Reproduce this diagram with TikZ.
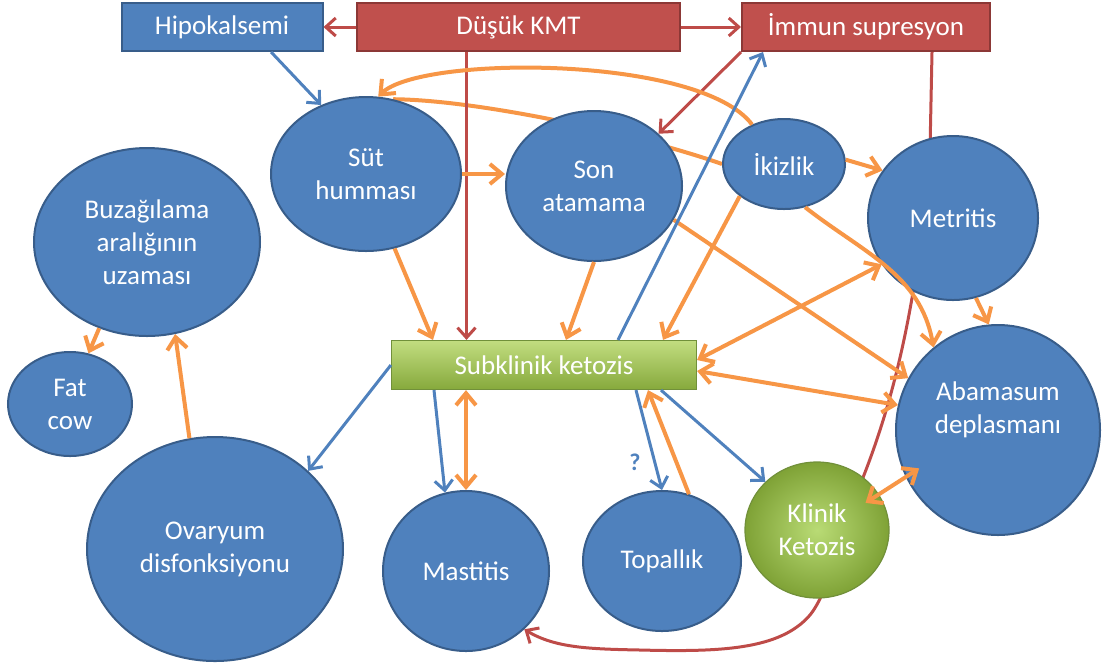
\documentclass[tikz,border=0pt]{standalone}
\usepackage{fontspec}
\setmainfont{Carlito}
\usetikzlibrary{shapes.geometric, arrows.meta, backgrounds}

\definecolor{ovalblue}{HTML}{4F81BD}
\definecolor{ovalrim}{HTML}{385D8A}
\definecolor{boxred}{HTML}{C0504D}
\definecolor{boxrim}{HTML}{8C3836}
\definecolor{linkred}{HTML}{BE4B48}
\definecolor{linkorange}{HTML}{F79646}
\definecolor{greentop}{HTML}{C2DD80}
\definecolor{greenbot}{HTML}{86A93C}
\definecolor{greenrim}{HTML}{71903A}
\definecolor{greenin}{HTML}{B9DB75}
\definecolor{greenout}{HTML}{7FA236}

\begin{document}
\begin{tikzpicture}[x=0.5pt,y=-0.5pt,
  disease/.style={ellipse, draw=ovalrim, line width=1pt, fill=ovalblue, text=white,
    inner sep=0pt, align=center, font=\fontsize{13.5}{16.5}\selectfont},
  cause/.style={rectangle, draw=boxrim, line width=1pt, fill=boxred, text=white,
    inner sep=0pt, minimum height=24pt, font=\fontsize{13.5}{16.5}\selectfont},
  ketobox/.style={rectangle, draw=greenrim, line width=0.6pt, top color=greentop,
    bottom color=greenbot, text=white, inner sep=0pt, font=\fontsize{13.5}{16.5}\selectfont},
  ketoball/.style={ellipse, draw=greenrim, line width=0.6pt, inner color=greenin,
    outer color=greenout, text=white, inner sep=0pt, align=center,
    font=\fontsize{13.5}{16.5}\selectfont},
  bluelink/.style={draw=ovalblue, line width=1.5pt, -{Straight Barb[length=5pt,width=9pt]}},
  redlink/.style={draw=linkred, line width=1.5pt, -{Straight Barb[length=5pt,width=9pt]}},
  orangelink/.style={draw=linkorange, line width=2pt, -{Straight Barb[length=6pt,width=10pt]}},
  twoway/.style={{Straight Barb[length=6pt,width=10pt]}-{Straight Barb[length=6pt,width=10pt]}}]
\useasboundingbox (0,0) rectangle (1107,666);

% causes
\node[cause, fill=ovalblue, draw=ovalrim, minimum width=100.5pt] (hypo) at (222,27) {Hipokalsemi};
\node[cause, minimum width=161.5pt] (kmt) at (518.5,27) {Düşük KMT};
\node[cause, minimum width=124pt] (immun) at (866,27) {İmmun supresyon};

% diseases
\node[disease, minimum width=95pt, minimum height=77pt] (sut) at (366,174) {Süt\\humması};
\node[disease, minimum width=88pt, minimum height=75pt] (son) at (594,186) {Son\\atamama};
\node[disease, minimum width=61pt, minimum height=45pt] (ikiz) at (784,164) {İkizlik};
\node[disease, minimum width=85pt, minimum height=82pt] (metr) at (953,218) {Metritis};
\node[disease, minimum width=113pt, minimum height=94pt] (buz) at (147,242) {Buzağılama\\aralığının\\uzaması};
\node[disease, minimum width=62pt, minimum height=52pt] (fat) at (70,404) {Fat\\cow};
\node[ketobox, minimum width=152.5pt, minimum height=24.5pt] (sub) at (544,365) {Subklinik ketozis};
\node[disease, minimum width=102pt, minimum height=105pt] (abam) at (998,430) {Abamasum\\deplasmanı\\[6pt]};
\node[disease, minimum width=128pt, minimum height=112pt] (ova) at (215,549) {Ovaryum\\disfonksiyonu};
\node[disease, minimum width=83pt, minimum height=80pt] (mast) at (466,571) {Mastitis};
\node[disease, minimum width=79pt, minimum height=70pt] (top) at (662,561) {Topallık};
\node[ketoball, minimum width=72pt, minimum height=68pt] (klin) at (817,530) {Klinik\\Ketozis};

% links hidden behind the ovals
\begin{scope}[on background layer]
\draw[redlink] ([xshift=33pt]immun.south) -- (930,150) .. controls (918,300) and (895,400) .. (858,490)
  .. controls (835,545) and (830,590) .. (810,615) .. controls (780,650) and (720,652) .. (640,650)
  .. controls (590,649) and (555,648) .. (mast.-45);
\draw[orangelink, -] (sut.70) .. controls (480,100) and (640,135) .. (ikiz.west);
\end{scope}

% red and blue from the causes
\draw[redlink] (kmt.west) -- (hypo.east);
\draw[redlink] (kmt.east) -- (immun.west);
\draw[redlink] ([xshift=-26pt]kmt.south) -- ([xshift=-26pt]kmt.south |- sub.north);
\draw[redlink] (immun.south west) -- (son.39);
\draw[bluelink] (hypo.-27) -- (sut.123);

% orange links
\draw[orangelink] (sut.east) -- (sut.east -| son.west);
\draw[orangelink] (sut.-69) -- ([xshift=-55.5pt]sub.north);
\draw[orangelink] (son.south) -- ([xshift=11pt]sub.north);
\draw[orangelink] (ikiz.216) -- ([xshift=59.5pt]sub.north);
\draw[orangelink] (ikiz.129) .. controls (700,55) and (420,55) .. (sut.81);
\draw[orangelink] (ikiz.4) -- (metr.146);
\draw[orangelink] (ikiz.-64) to[out=-38,in=100] (abam.128);
\draw[orangelink] (son.-23) -- (abam.150);
\draw[orangelink, twoway] ([yshift=2.5pt]sub.east) -- (metr.213);
\draw[orangelink, twoway] ([yshift=-3pt]sub.east) -- (abam.166);
\draw[orangelink] (metr.-74) -- (abam.95);
\draw[orangelink, twoway, shorten <=-8pt, shorten >=-8pt] (klin.30) -- (abam.207);
\draw[orangelink] (top.68) -- ([xshift=52pt]sub.south);
\draw[orangelink, twoway] ([xshift=-39pt]sub.south) -- (mast.north);
\draw[orangelink] (buz.-119) -- (fat.70);
\draw[orangelink] (ova.103) -- (buz.-73);

% blue links from subklinik ketozis
\draw[bluelink] ([xshift=37pt]sub.north) -- ([xshift=11pt]immun.south west);
\draw[bluelink] (sub.west) -- (ova.40);
\draw[bluelink] ([xshift=-55pt]sub.south) -- (mast.105);
\draw[bluelink] ([xshift=46pt]sub.south) -- node[pos=0.72, left=3pt, text=ovalblue,
  font=\fontsize{12}{14}\selectfont\bfseries] (qmark) {?} (top.north);
\draw[bluelink] ([xshift=58.5pt]sub.south) -- (klin.137);
\end{tikzpicture}
\end{document}
